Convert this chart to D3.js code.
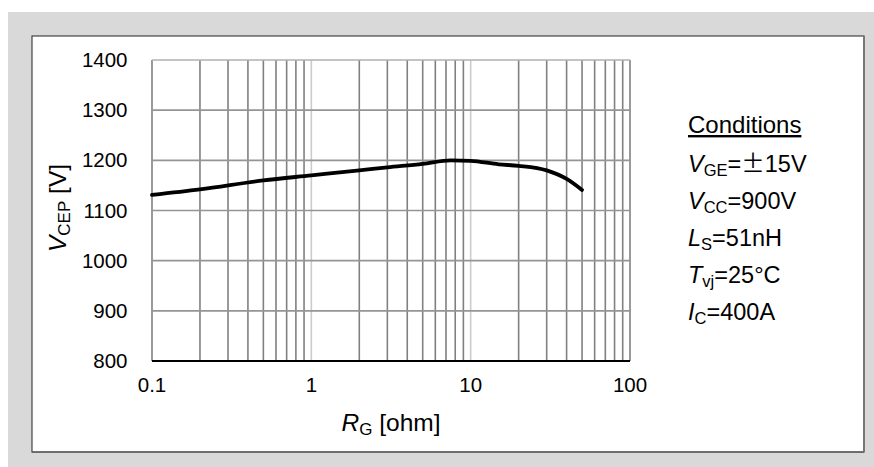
<!DOCTYPE html>
<html>
<head>
<meta charset="utf-8">
<script src="https://cdn.jsdelivr.net/npm/d3@7"></script>
<style>
  body { margin: 0; background: #fff; }
  text { font-family: "Liberation Sans", Arial, sans-serif; fill: #000; }
</style>
</head>
<body>
<div id="chart"></div>
<script>
// chart data
const rgValues = [0.1, 0.2, 0.5, 1, 2, 3, 5, 7.5, 10, 15, 20, 30, 40, 50];
const vcepValues = [1131, 1142, 1160, 1170, 1180, 1186, 1193, 1200, 1199, 1192, 1189, 1180, 1163, 1141];
const yTicks = [800, 900, 1000, 1100, 1200, 1300, 1400];
const xTickLabels = ["0.1", "1", "10", "100"];
const conditions = [
  { main: "V", sub: "GE", rest: "=", pm: "\u00b1", tail: "15V" },
  { main: "V", sub: "CC", rest: "=900V" },
  { main: "L", sub: "S", rest: "=51nH" },
  { main: "T", sub: "vj", rest: "=25\u00b0C" },
  { main: "I", sub: "C", rest: "=400A" }
];

const width = 874, height = 467;
const svg = d3.select("#chart").append("svg")
    .attr("width", width)
    .attr("height", height);

// grey backdrop + white panel
svg.append("rect").attr("x", 8).attr("y", 12).attr("width", width - 8).attr("height", height - 12).attr("fill", "#d9d9d9");
svg.append("rect").attr("x", 32).attr("y", 36).attr("width", 832).attr("height", 416)
    .attr("fill", "#fff").attr("stroke", "#222").attr("stroke-width", 1);
svg.append("line").attr("x1", 864).attr("x2", 864).attr("y1", 36).attr("y2", 452).attr("stroke", "#777").attr("stroke-width", 2);
svg.append("line").attr("x1", 32).attr("x2", 864).attr("y1", 452).attr("y2", 452).attr("stroke", "#666").attr("stroke-width", 1.5);

const x = d3.scaleLog().domain([0.1, 100]).range([152, 630]);
const y = d3.scaleLinear().domain([800, 1400]).range([361, 60]);

// vertical grid: minor lines dark, decade lines light
const minors = [];
[0.1, 1, 10].forEach(d => { for (let k = 2; k <= 9; k++) minors.push(d * k); });
svg.append("g").selectAll("line").data(minors).join("line")
    .attr("x1", d => x(d)).attr("x2", d => x(d))
    .attr("y1", y(1400)).attr("y2", y(800))
    .attr("stroke", "#808080").attr("stroke-width", 1.6);
svg.append("g").selectAll("line").data([1, 10]).join("line")
    .attr("x1", d => x(d)).attr("x2", d => x(d))
    .attr("y1", y(1400)).attr("y2", y(800))
    .attr("stroke", "#cccccc").attr("stroke-width", 1.6);
svg.append("g").selectAll("line").data([0.1, 100]).join("line")
    .attr("x1", d => x(d)).attr("x2", d => x(d))
    .attr("y1", y(1400)).attr("y2", y(800))
    .attr("stroke", "#808080").attr("stroke-width", 1.6);

// horizontal grid
svg.append("g").selectAll("line").data(yTicks.slice(1)).join("line")
    .attr("x1", x(0.1)).attr("x2", x(100))
    .attr("y1", d => y(d)).attr("y2", d => y(d))
    .attr("stroke", d => d === 1400 ? "#b0b0b0" : "#959595").attr("stroke-width", 1.6);

// bottom axis line
svg.append("line").attr("x1", x(0.1)).attr("x2", x(100)).attr("y1", y(800)).attr("y2", y(800))
    .attr("stroke", "#000").attr("stroke-width", 2);

// tick labels
svg.append("g").selectAll("text").data(yTicks).join("text")
    .attr("x", 127.5).attr("y", d => y(d) + 7)
    .attr("text-anchor", "end").attr("font-size", 20.5)
    .text(d => d);
svg.append("g").selectAll("text").data(xTickLabels).join("text")
    .attr("x", d => x(+d)).attr("y", 392)
    .attr("text-anchor", "middle").attr("font-size", 20.5)
    .text(d => d);

// curve
const line = d3.line()
    .x((d, i) => x(rgValues[i]))
    .y(d => y(d))
    .curve(d3.curveMonotoneX);
svg.append("path").datum(vcepValues)
    .attr("d", line)
    .attr("fill", "none").attr("stroke", "#000").attr("stroke-width", 3.8)
    .attr("stroke-linecap", "round");

// axis titles
const xt = svg.append("text").attr("x", 391).attr("y", 431).attr("text-anchor", "middle").attr("font-size", 24.5);
xt.append("tspan").attr("font-style", "italic").text("R");
xt.append("tspan").attr("font-size", 17).attr("dy", 4).text("G");
xt.append("tspan").attr("dy", -4).text(" [ohm]");

const yt = svg.append("text").attr("transform", "translate(66,208) rotate(-90)")
    .attr("text-anchor", "middle").attr("font-size", 24.5);
yt.append("tspan").attr("font-style", "italic").text("V");
yt.append("tspan").attr("font-size", 17).attr("dy", 4).text("CEP");
yt.append("tspan").attr("dy", -4).text(" [V]");

// conditions block
svg.append("text").attr("x", 688).attr("y", 133).attr("font-size", 24)
    .attr("text-decoration", "underline").text("Conditions");
conditions.forEach((c, i) => {
  const t = svg.append("text").attr("x", 688).attr("y", 172 + i * 37).attr("font-size", 23.5);
  t.append("tspan").attr("font-style", "italic").text(c.main);
  t.append("tspan").attr("font-size", 16.5).attr("dy", 4).text(c.sub);
  t.append("tspan").attr("dy", -4).text(c.rest);
  if (c.pm) {
    t.append("tspan").attr("font-family", "'Noto Sans CJK JP', sans-serif").text(c.pm);
    t.append("tspan").text(c.tail);
  }
});
</script>
</body>
</html>
